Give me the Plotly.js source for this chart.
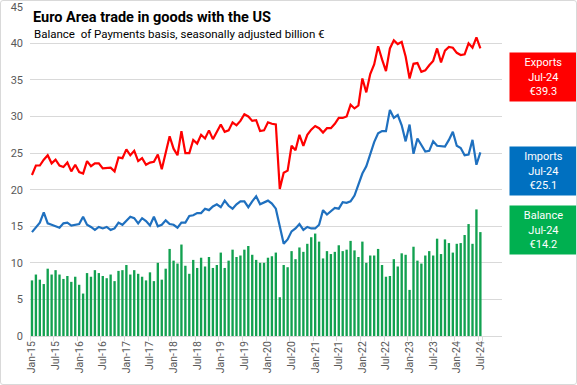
<!DOCTYPE html>
<html>
<head>
<meta charset="utf-8">
<script src="https://cdn.plot.ly/plotly-3.0.1.min.js"></script>
<style>
  html, body { margin: 0; padding: 0; background: #fff; }
  #wrap { position: relative; width: 577px; height: 385px; }
  #chart { position: absolute; left: 0; top: 0; width: 577px; height: 385px; }
  #frame { position: absolute; left: 0; top: 0; width: 575px; height: 383px; border: 1px solid #d9d9d9; border-radius: 3px; pointer-events: none; }
</style>
</head>
<body>
<div id="wrap"><div id="chart"></div><div id="frame"></div></div>
<script>
// ---- Data (billion €, monthly Jan-15 .. Jul-24) ----
const monthNames = ["Jan","Feb","Mar","Apr","May","Jun","Jul","Aug","Sep","Oct","Nov","Dec"];
const years = ["15","16","17","18","19","20","21","22","23","24"];

const exportsVals = [
  22.0, 23.3, 23.3, 24.1, 24.7, 23.6, 24.1, 23.3, 23.1, 23.7, 22.5, 23.4,
  22.4, 22.2, 23.9, 23.2, 23.6, 23.6, 22.9, 23.0, 23.0, 22.5, 24.4, 24.3,
  25.5, 24.7, 25.3, 23.9, 24.3, 23.4, 23.7, 23.8, 24.8, 22.8, 25.0, 27.3,
  25.6, 24.7, 28.0, 25.0, 25.0, 26.8, 26.3, 27.5, 27.0, 28.1, 26.9, 27.8,
  28.9, 27.9, 28.1, 29.2, 28.8, 29.4, 30.3, 30.0, 29.4, 29.5, 28.0, 28.1,
  29.2, 29.0, 28.9, 20.1, 22.3, 22.6, 26.0, 25.4, 27.5, 26.0, 27.5, 28.2,
  28.7, 28.4, 27.8, 28.4, 28.4, 29.0, 29.8, 29.8, 30.0, 31.6, 31.1, 31.5,
  35.2, 33.3, 35.8, 37.1, 39.6, 37.8, 36.2, 39.3, 40.4, 39.9, 40.2, 38.2,
  35.2, 37.2, 37.3, 36.1, 36.3, 37.0, 37.6, 39.3, 37.4, 39.0, 39.5, 39.4,
  38.7, 38.4, 38.5, 40.0, 39.4, 40.8, 39.3
];

const importsVals = [
  14.2, 14.9, 15.5, 16.9, 15.4, 15.2, 15.0, 14.8, 15.4, 15.5, 15.1, 15.2,
  15.3, 16.3, 15.2, 14.9, 14.5, 14.9, 14.7, 14.9, 14.5, 14.7, 15.5, 15.2,
  15.8, 16.3, 16.1, 15.4, 16.1, 15.7, 15.1, 16.3, 15.0, 15.2, 15.8, 15.3,
  15.2, 14.8, 15.5, 15.5, 16.4, 16.5, 16.8, 16.8, 17.4, 17.2, 17.7, 18.0,
  17.6, 18.5, 17.8, 17.4, 18.0, 18.4, 18.4, 17.6, 18.4, 19.1, 18.0, 18.3,
  18.5, 18.1, 17.4, 15.0, 12.6, 13.2, 14.3, 14.7, 15.3, 14.5, 14.9, 14.7,
  14.7, 15.2, 17.2, 16.6, 17.0, 17.5, 17.4, 18.3, 18.2, 18.4, 19.2, 20.6,
  22.2, 23.2, 24.9, 26.5, 27.7, 28.0, 28.0, 30.9, 29.8, 30.2, 28.8, 26.6,
  28.9, 24.9, 27.0, 26.0, 25.2, 25.3, 26.6, 26.0, 26.0, 25.9, 26.8, 27.9,
  26.0, 25.7, 24.7, 24.8, 26.8, 23.4, 25.1
];

const balanceVals = [
  7.6, 8.4, 7.7, 7.1, 9.2, 8.4, 9.0, 8.4, 7.8, 8.2, 7.4, 8.1,
  7.0, 5.8, 8.6, 8.1, 9.0, 8.6, 8.2, 7.9, 8.4, 7.5, 8.9, 9.0,
  9.7, 8.4, 9.0, 8.5, 8.1, 7.6, 8.7, 7.5, 10.0, 7.7, 9.2, 11.9,
  10.3, 9.9, 12.5, 9.6, 8.5, 10.4, 9.3, 10.7, 9.5, 10.8, 9.3, 9.7,
  11.4, 9.3, 10.3, 11.8, 10.8, 11.0, 11.8, 12.3, 11.1, 10.4, 10.0, 10.0,
  10.7, 10.9, 11.4, 5.3, 9.7, 9.4, 11.6, 10.5, 12.1, 11.5, 12.6, 13.5,
  14.0, 12.9, 10.6, 11.6, 11.2, 11.5, 12.4, 11.6, 11.8, 13.0, 11.7, 10.8,
  12.9, 10.0, 11.0, 11.0, 11.9, 9.7, 8.1, 8.2, 10.5, 9.5, 11.3, 11.1,
  6.3, 12.2, 10.3, 9.9, 11.0, 11.6, 11.0, 13.3, 11.2, 13.2, 12.7, 11.4,
  12.6, 12.7, 13.8, 15.3, 12.6, 17.3, 14.2
];

const tickLabels = ["Jan-15","Jul-15","Jan-16","Jul-16","Jan-17","Jul-17","Jan-18","Jul-18",
  "Jan-19","Jul-19","Jan-20","Jul-20","Jan-21","Jul-21","Jan-22","Jul-22",
  "Jan-23","Jul-23","Jan-24","Jul-24"];

const yTickVals = [0, 5, 10, 15, 20, 25, 30, 35, 40, 45];

const seriesNames = ["Exports", "Imports", "Balance"];
const lastLabel = "Jul-24";

// month categories
const months = [];
for (const y of years) for (const m of monthNames) months.push(m + "-" + y);
const cats = months.slice(0, exportsVals.length);

const FONT = "Roboto, 'Noto Sans', 'Liberation Sans', sans-serif";
const RED = "#FF0000", BLUE = "#1F70BF", GREEN = "#12A150";

const traces = [
  { type: "bar", x: cats, y: balanceVals, name: seriesNames[2],
    marker: { color: GREEN }, hoverinfo: "x+y" },
  { type: "scatter", mode: "lines", x: cats, y: importsVals, name: seriesNames[1],
    line: { color: BLUE, width: 2.2 } },
  { type: "scatter", mode: "lines", x: cats, y: exportsVals, name: seriesNames[0],
    line: { color: RED, width: 2.2 } }
];

function fmt(v) { return "€" + v.toFixed(1); }
const n = cats.length - 1;

// plot area: y=0 at 336px, 45 at ~7px
const PT = 6, PB = 336, YMAX = 45.1;
function py(pix) { return (PB - pix) / (PB - PT); }

function box(name, val, color, yc) {
  return {
    xref: "paper", yref: "paper", x: 1.015, y: yc, xanchor: "left", yanchor: "middle",
    text: name + "<br>" + lastLabel + "<br>" + fmt(val),
    showarrow: false, align: "center",
    font: { family: FONT, size: 11, color: "#ffffff" },
    bgcolor: color, width: 67, height: 48, borderpad: 0
  };
}

const layout = {
  width: 577, height: 385,
  margin: { l: 30, r: 75, t: PT, b: 385 - PB },
  paper_bgcolor: "#ffffff", plot_bgcolor: "#ffffff",
  showlegend: false,
  bargap: 0.4,
  font: { family: FONT, color: "#595959" },
  title: {
    text: "<b>Euro Area trade in goods with the US</b>",
    font: { family: FONT, size: 14.5, color: "#000000" },
    x: 33 / 577, xanchor: "left", xref: "container",
    y: 1 - 16.5 / 385, yanchor: "middle", yref: "container"
  },
  xaxis: {
    type: "category",
    range: [-0.5, 119.5],
    tickmode: "array", tickvals: tickLabels, ticktext: tickLabels,
    tickangle: -90,
    tickson: "boundaries",
    ticks: "outside", ticklen: 4, tickcolor: "#d9d9d9",
    showgrid: false, showline: true, linecolor: "#d9d9d9", linewidth: 1,
    tickfont: { family: FONT, size: 10.5, color: "#595959" },
    zeroline: false, fixedrange: true
  },
  yaxis: {
    range: [0, YMAX],
    tickmode: "array", tickvals: yTickVals, ticktext: yTickVals.map(String),
    showgrid: true, gridcolor: "#d9d9d9", gridwidth: 1,
    zeroline: false, showline: false, ticks: "",
    ticklabelstandoff: 6,
    tickfont: { family: FONT, size: 11, color: "#595959" },
    fixedrange: true
  },
  annotations: [
    {
      xref: "paper", yref: "paper", x: 0.005, y: py(33.5),
      xanchor: "left", yanchor: "middle", showarrow: false,
      text: "Balance  of Payments basis, seasonally adjusted billion €",
      font: { family: FONT, size: 11.5, color: "#000000" }
    },
    box(seriesNames[0], exportsVals[n], "#FF0000", py(77)),
    box(seriesNames[1], importsVals[n], "#0070C0", py(170.5)),
    box(seriesNames[2], balanceVals[n], "#00B050", py(229.5))
  ]
};

Plotly.newPlot("chart", traces, layout, { displayModeBar: false, staticPlot: true });
</script>
</body>
</html>
